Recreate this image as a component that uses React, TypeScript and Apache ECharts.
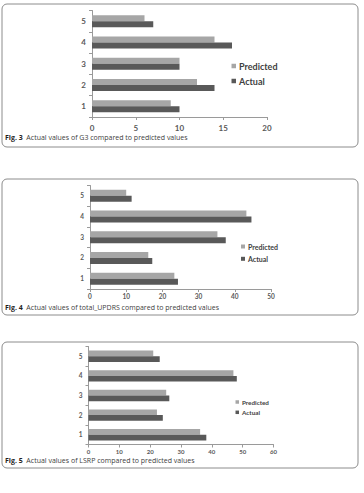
import { useEffect, useRef } from "react";
import * as echarts from "echarts";

const categories = ["1", "2", "3", "4", "5"];
const seriesNames = ["Predicted", "Actual"];

const g3Predicted = [9, 12, 10, 14, 6];
const g3Actual = [10, 14, 10, 16, 7];
const updrsPredicted = [23.3, 16.1, 35.2, 43.2, 10];
const updrsActual = [24.3, 17.2, 37.5, 44.6, 11.5];
const lsrpPredicted = [36.2, 22.2, 25.2, 47, 21];
const lsrpActual = [38.2, 24.1, 26.2, 48.1, 23.1];

const axisMax = [20, 50, 60];
const axisInterval = [5, 10, 10];

const captionFig = ["Fig. 3", "Fig. 4", "Fig. 5"];
const captionText = [
  "Actual values of G3 compared to predicted values",
  "Actual values of total_UPDRS compared to predicted values",
  "Actual values of LSRP compared to predicted values",
];

const PRED_COLOR = "#a6a6a6";
const ACT_COLOR = "#595959";
const FONT = "Lato, 'Open Sans', sans-serif";
const CAP_FONT = "'Open Sans', 'Noto Sans', sans-serif";

// layout (pixels)
const panels = [
  {
    box: { y: 4, h: 143 },
    grid: { left: 92, top: 10.5, width: 175, height: 106.5 },
    barW: 6,
    axisFont: 8,
    catFont: 8,
    legend: { left: 231.5, top: 60, font: 9, lh: 12, gap: 3, icon: 4.5 },
    capY: 137.5,
    xMargin: 7,
    yMargin: 6,
  },
  {
    box: { y: 179, h: 136 },
    grid: { left: 90, top: 185.5, width: 181, height: 103.5 },
    barW: 6,
    axisFont: 6.5,
    catFont: 6.5,
    legend: { left: 241, top: 242.5, font: 7, lh: 8, gap: 4.3, icon: 4 },
    capY: 307,
    xMargin: 4,
    yMargin: 6,
  },
  {
    box: { y: 342, h: 126 },
    grid: { left: 88.5, top: 346.5, width: 185, height: 98 },
    barW: 5.7,
    axisFont: 6,
    catFont: 6.5,
    legend: { left: 235.5, top: 398.5, font: 6.3, lh: 7, gap: 3.3, icon: 3.5 },
    capY: 460,
    xMargin: 3.5,
    yMargin: 6,
  },
];

const predictedData = [g3Predicted, updrsPredicted, lsrpPredicted];
const actualData = [g3Actual, updrsActual, lsrpActual];

export default function App() {
  const ref = useRef<HTMLDivElement>(null);

  useEffect(() => {
    if (!ref.current) return;
    const chart = echarts.init(ref.current, null, { renderer: "svg" });

    const grids: any[] = [];
    const xAxes: any[] = [];
    const yAxes: any[] = [];
    const series: any[] = [];
    const legends: any[] = [];
    const graphics: any[] = [];

    panels.forEach((p, i) => {
      grids.push({ ...p.grid, containLabel: false });
      xAxes.push({
        type: "value",
        gridIndex: i,
        min: 0,
        max: axisMax[i],
        interval: axisInterval[i],
        axisLine: { show: true, lineStyle: { color: "#9a9a9a", width: 1 } },
        axisTick: { show: true, length: 3, lineStyle: { color: "#9a9a9a" } },
        splitLine: { show: false },
        axisLabel: {
          color: "#595959",
          fontSize: p.axisFont,
          fontWeight: "bold",
          fontFamily: FONT,
          margin: p.xMargin,
        },
      });
      yAxes.push({
        type: "category",
        gridIndex: i,
        data: categories,
        axisLine: { show: true, lineStyle: { color: "#9a9a9a", width: 1 } },
        axisTick: { show: true, length: 3, lineStyle: { color: "#9a9a9a" } },
        axisLabel: {
          color: "#595959",
          fontSize: p.catFont,
          fontWeight: "bold",
          fontFamily: FONT,
          margin: p.yMargin,
        },
      });
      series.push({
        name: "Predicted",
        type: "bar",
        xAxisIndex: i,
        yAxisIndex: i,
        data: predictedData[i],
        barWidth: p.barW,
        barGap: "0%",
        itemStyle: { color: PRED_COLOR },
      });
      series.push({
        name: "Actual",
        type: "bar",
        xAxisIndex: i,
        yAxisIndex: i,
        data: actualData[i],
        barWidth: p.barW,
        barGap: "0%",
        itemStyle: { color: ACT_COLOR },
      });
      legends.push({
        data: seriesNames,
        orient: "vertical",
        left: p.legend.left,
        top: p.legend.top,
        padding: 0,
        itemGap: p.legend.gap,
        itemWidth: p.legend.icon,
        itemHeight: p.legend.icon,
        icon: "rect",
        selectedMode: false,
        textStyle: {
          color: "#404040",
          fontSize: p.legend.font,
          fontWeight: "bold",
          fontFamily: FONT,
          lineHeight: p.legend.lh,
          padding: [0, 0, 0, -2],
        },
      });
      graphics.push({
        type: "rect",
        shape: { x: 2, y: p.box.y, width: 356, height: p.box.h, r: 5 },
        style: { fill: "none", stroke: "#8c8c8c", lineWidth: 1 },
        silent: true,
        z: 0,
      });
      graphics.push({
        type: "text",
        x: 5,
        y: p.capY,
        style: {
          text: `{b|${captionFig[i]}}{n|  ${captionText[i]}}`,
          verticalAlign: "middle",
          rich: {
            b: { fontSize: 7, fontWeight: "bold", fill: "#1f1f1f", fontFamily: CAP_FONT },
            n: { fontSize: 7, fill: "#404040", fontFamily: CAP_FONT },
          },
        },
        silent: true,
      });
    });

    chart.setOption({
      animation: false,
      backgroundColor: "#ffffff",
      grid: grids,
      xAxis: xAxes,
      yAxis: yAxes,
      series,
      legend: legends,
      graphic: graphics,
    });

    return () => chart.dispose();
  }, []);

  return (
    <div
      ref={ref}
      style={{ position: "absolute", left: 0, top: 0, width: 364, height: 493 }}
    />
  );
}
